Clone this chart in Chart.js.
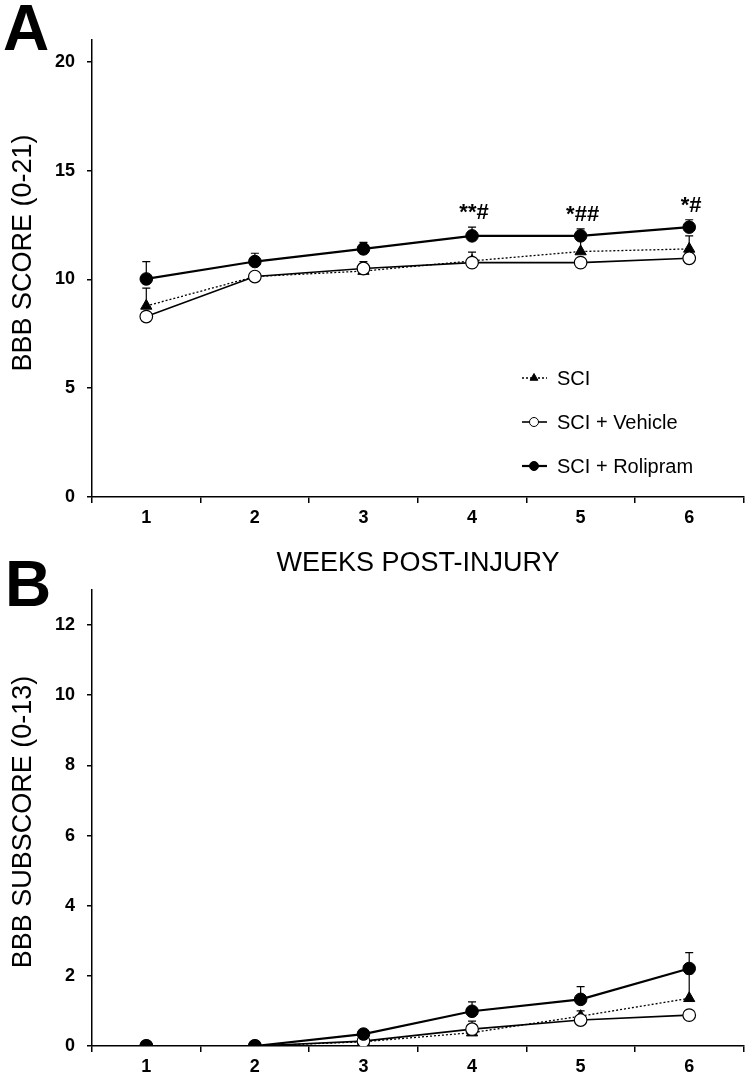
<!DOCTYPE html>
<html><head><meta charset="utf-8">
<script src="https://cdn.jsdelivr.net/npm/chart.js@4.4.1/dist/chart.umd.min.js"></script>
<style>
html,body{margin:0;padding:0;background:#fff;width:751px;height:1081px;overflow:hidden}
.box{position:absolute;left:0;width:751px}
</style></head><body>
<div class="box" style="top:0;height:530px"><canvas id="cA"></canvas></div>
<div class="box" style="top:530px;height:551px"><canvas id="cB"></canvas></div>
<script>
// ---- data ----
const weeks = ['1', '2', '3', '4', '5', '6'];
const seriesNames = ['SCI', 'SCI + Vehicle', 'SCI + Rolipram'];

// Panel A: BBB score (mean) and upper SEM
const sciA = [8.78, 10.13, 10.38, 10.85, 11.28, 11.40];
const sciAErr = [0.82, 0.10, 0.10, 0.15, 0.62, 0.60];
const vehA = [8.29, 10.13, 10.50, 10.77, 10.77, 10.97];
const vehAErr = [0.00, 0.10, 0.32, 0.48, 0.15, 0.15];
const rolA = [10.02, 10.82, 11.40, 12.00, 12.00, 12.40];
const rolAErr = [0.80, 0.38, 0.30, 0.40, 0.32, 0.34];
const sigA = ['', '', '', '**#', '*##', '*#'];

// Panel B: BBB subscore (mean) and upper SEM
const sciB = [0, 0, 0.12, 0.38, 0.85, 1.36];
const sciBErr = [0, 0, 0.05, 0.10, 0.15, 0.70];
const vehB = [0, 0, 0.14, 0.48, 0.74, 0.88];
const vehBErr = [0, 0, 0.05, 0.23, 0.10, 0.10];
const rolB = [0, 0, 0.34, 0.99, 1.33, 2.21];
const rolBErr = [0, 0, 0.05, 0.27, 0.36, 0.45];

const yTicksA = [0, 5, 10, 15, 20];
const yTicksB = [0, 2, 4, 6, 8, 10, 12];

// ---- styling ----
const FONT = "'Liberation Sans', Arial, sans-serif";

function makeDatasets(sci, sciE, veh, vehE, rol, rolE) {
  return [
    { label: seriesNames[0], data: sci, err: sciE, order: 2,
      borderColor: '#000', borderWidth: 1.3, borderDash: [2, 2],
      pointStyle: 'triangle', pointRadius: 6.5, pointBackgroundColor: '#000', pointBorderColor: '#000', pointBorderWidth: 1 },
    { label: seriesNames[1], data: veh, err: vehE, order: 1,
      borderColor: '#000', borderWidth: 1.6,
      pointStyle: 'circle', pointRadius: 6.3, pointBackgroundColor: '#fff', pointBorderColor: '#000', pointBorderWidth: 1.2 },
    { label: seriesNames[2], data: rol, err: rolE, order: 0,
      borderColor: '#000', borderWidth: 2.2,
      pointStyle: 'circle', pointRadius: 6.3, pointBackgroundColor: '#000', pointBorderColor: '#000', pointBorderWidth: 1 }
  ];
}

const errorBars = {
  id: 'errorBars',
  beforeDatasetsDraw(chart) {
    const ctx = chart.ctx, ys = chart.scales.y;
    ctx.save();
    ctx.strokeStyle = '#000';
    ctx.lineWidth = 1.2;
    chart.data.datasets.forEach((ds, di) => {
      const meta = chart.getDatasetMeta(di);
      meta.data.forEach((pt, i) => {
        const e = ds.err[i];
        if (!e) return;
        const y0 = ys.getPixelForValue(ds.data[i]);
        const y1 = ys.getPixelForValue(ds.data[i] + e);
        ctx.beginPath();
        ctx.moveTo(pt.x, y0); ctx.lineTo(pt.x, y1);
        ctx.moveTo(pt.x - 4, y1); ctx.lineTo(pt.x + 4, y1);
        ctx.stroke();
      });
    });
    ctx.restore();
  }
};

function textPlugin(opts) {
  return {
    id: 'texts',
    afterDraw(chart) {
      const ctx = chart.ctx;
      ctx.save();
      ctx.fillStyle = '#000';
      // panel letter
      ctx.font = 'bold 64px ' + FONT;
      ctx.textAlign = 'left'; ctx.textBaseline = 'alphabetic';
      ctx.fillText(opts.letter, opts.letterX, opts.letterY);
      // y title
      ctx.font = '27px ' + FONT;
      ctx.textAlign = 'center'; ctx.textBaseline = 'middle';
      ctx.save();
      ctx.translate(opts.yTitleX, opts.yTitleY);
      ctx.rotate(-Math.PI / 2);
      ctx.fillText(opts.yTitle, 0, 0);
      ctx.restore();
      if (opts.xTitle) {
        ctx.fillText(opts.xTitle, opts.xTitleX, opts.xTitleY);
      }
      // significance marks
      if (opts.sig) {
        const xs = chart.scales.x, ys = chart.scales.y;
        const ds = chart.data.datasets[2];
        ctx.font = 'bold 22px ' + FONT;
        ctx.textBaseline = 'middle';
        opts.sig.forEach((s, i) => {
          if (!s) return;
          const x = xs.getPixelForValue(i);
          const y = ys.getPixelForValue(ds.data[i] + ds.err[i]) - 14;
          ctx.fillText(s, x + 2, y);
        });
      }
      // legend
      if (opts.legend) {
        const L = opts.legend;
        chart.data.datasets.forEach((ds, i) => {
          const y = L.y + i * L.gap;
          ctx.save();
          ctx.strokeStyle = '#000';
          ctx.lineWidth = ds.borderWidth;
          ctx.setLineDash(ds.borderDash || []);
          ctx.beginPath(); ctx.moveTo(L.x - 12, y); ctx.lineTo(L.x + 13, y); ctx.stroke();
          ctx.setLineDash([]);
          ctx.fillStyle = ds.pointBackgroundColor; ctx.strokeStyle = '#000'; ctx.lineWidth = 1;
          Chart.helpers.drawPoint(ctx, { pointStyle: ds.pointStyle, radius: 4.5, rotation: 0, borderWidth: 1 }, L.x, y);
          ctx.restore();
          ctx.font = '20px ' + FONT;
          ctx.textAlign = 'left'; ctx.textBaseline = 'middle';
          ctx.fillText(ds.label, L.x + 23, y + 1);
        });
      }
      ctx.restore();
    }
  };
}

function axisOpts(yMax, yTicks, xHeight) {
  const tickFont = { family: FONT, weight: 'bold', size: 18 };
  return {
    x: {
      type: 'category', offset: true,
      grid: { offset: true, display: true, drawOnChartArea: false, drawTicks: true, tickLength: 6, color: '#000', lineWidth: 1.5 },
      border: { display: true, color: '#000', width: 1.5 },
      ticks: { color: '#000', font: tickFont, padding: 4, maxRotation: 0, autoSkip: false },
      afterFit: s => { s.height = xHeight; }
    },
    y: {
      min: 0, max: yMax,
      grid: { display: true, drawOnChartArea: false, drawTicks: true, tickLength: 5, color: '#000', lineWidth: 1.5 },
      border: { display: true, color: '#000', width: 1.5 },
      ticks: { color: '#000', font: tickFont, padding: 12 },
      afterBuildTicks: s => { s.ticks = yTicks.map(v => ({ value: v })); },
      afterFit: s => { s.width = 92; }
    }
  };
}

Chart.defaults.font.family = FONT;

new Chart(document.getElementById('cA'), {
  type: 'line',
  data: { labels: weeks, datasets: makeDatasets(sciA, sciAErr, vehA, vehAErr, rolA, rolAErr) },
  options: {
    responsive: true, maintainAspectRatio: false, animation: false,
    layout: { padding: { top: 40, right: 7, left: 0, bottom: 0 } },
    plugins: { legend: { display: false }, tooltip: { enabled: false } },
    scales: axisOpts(21, yTicksA, 33)
  },
  plugins: [errorBars, textPlugin({
    letter: 'A', letterX: 3, letterY: 50,
    yTitle: 'BBB SCORE (0-21)', yTitleX: 24, yTitleY: 253,
    sig: sigA,
    legend: { x: 534, y: 378, gap: 44 }
  })]
});

new Chart(document.getElementById('cB'), {
  type: 'line',
  data: { labels: weeks, datasets: makeDatasets(sciB, sciBErr, vehB, vehBErr, rolB, rolBErr) },
  options: {
    responsive: true, maintainAspectRatio: false, animation: false,
    layout: { padding: { top: 60, right: 7, left: 0, bottom: 0 } },
    plugins: { legend: { display: false }, tooltip: { enabled: false } },
    scales: axisOpts(13, yTicksB, 35)
  },
  plugins: [errorBars, textPlugin({
    letter: 'B', letterX: 5, letterY: 76,
    yTitle: 'BBB SUBSCORE (0-13)', yTitleX: 24, yTitleY: 292,
    xTitle: 'WEEKS POST-INJURY', xTitleX: 418, xTitleY: 34
  })]
});
</script>
</body></html>
